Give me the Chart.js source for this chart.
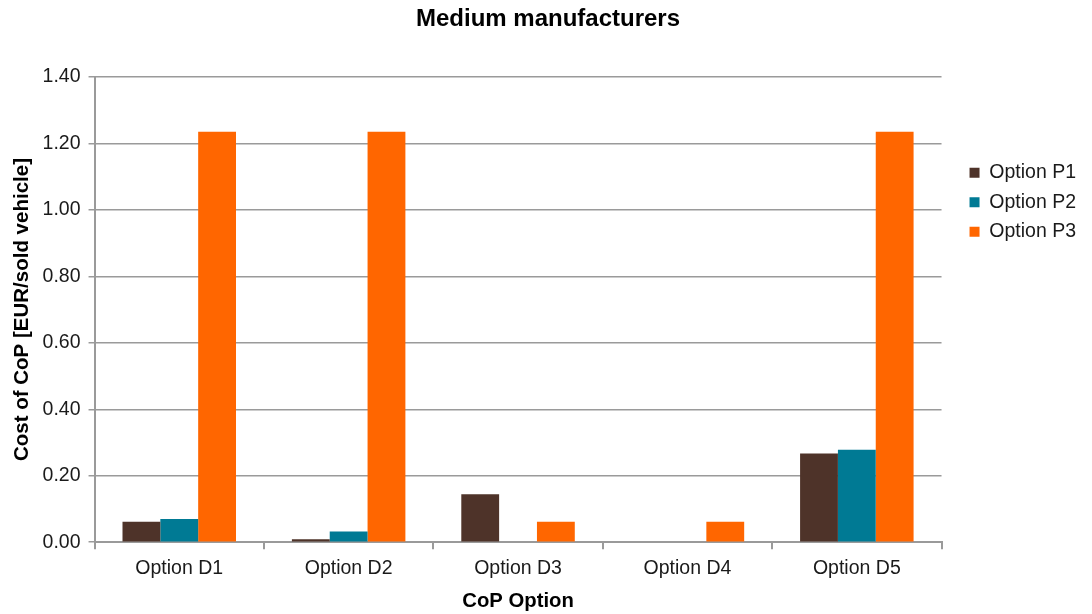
<!DOCTYPE html>
<html>
<head>
<meta charset="utf-8">
<title>Medium manufacturers</title>
<script src="https://cdn.jsdelivr.net/npm/chart.js@4.4.1/dist/chart.umd.min.js"></script>
<style>
    html, body { margin: 0; padding: 0; background: #ffffff; }
    #wrap { width: 1092px; height: 614px; }
</style>
</head>
<body>
<div id="wrap"><canvas id="costChart" width="1092" height="614"></canvas></div>
<script>
// CoP options on the x axis
const copOptions = ['Option D1', 'Option D2', 'Option D3', 'Option D4', 'Option D5'];

// Cost per sold vehicle (EUR) for each P option
const optionP1 = [0.062, 0.009, 0.144, 0, 0.267];
const optionP2 = [0.070, 0.032, 0, 0, 0.278];
const optionP3 = [1.235, 1.235, 0.062, 0.062, 1.235];

const seriesNames = ['Option P1', 'Option P2', 'Option P3'];
const seriesColors = ['#4e3329', '#007a94', '#ff6600'];

const FONT = "'Liberation Sans', Arial, sans-serif";
const gridGrey = '#9a9a9a';

Chart.defaults.font.family = FONT;
Chart.defaults.color = '#1a1a1a';

const costCtx = document.getElementById('costChart').getContext('2d');
const costChart = new Chart(costCtx, {
    type: 'bar',
    data: {
        labels: copOptions,
        datasets: [optionP1, optionP2, optionP3].map((values, i) => ({
            label: seriesNames[i],
            data: values,
            backgroundColor: seriesColors[i],
            borderWidth: 0,
            categoryPercentage: 0.67,
            barPercentage: 1.0
        }))
    },
    options: {
        responsive: false,
        animation: false,
        devicePixelRatio: 1,
        layout: { padding: { left: 10, right: 6, top: 4, bottom: 0 } },
        plugins: {
            title: {
                display: true,
                text: 'Medium manufacturers',
                color: '#000000',
                font: { size: 24, weight: 'bold' },
                padding: { top: 1, bottom: 43 }
            },
            legend: {
                position: 'right',
                align: 'start',
                title: { display: true, text: ' ', font: { size: 10 }, padding: { top: 137, bottom: 0 } },
                labels: {
                    boxWidth: 10,
                    boxHeight: 10,
                    padding: 10,
                    color: '#1a1a1a',
                    font: { size: 19.5 }
                }
            },
            tooltip: { enabled: false }
        },
        scales: {
            x: {
                grid: {
                    display: true,
                    drawOnChartArea: false,
                    drawTicks: true,
                    tickLength: 7,
                    offset: true,
                    color: gridGrey,
                    lineWidth: 2
                },
                border: { display: true, color: gridGrey, width: 2 },
                ticks: { font: { size: 19.5 }, color: '#1a1a1a', padding: 8 },
                title: {
                    display: true,
                    text: 'CoP Option',
                    color: '#000000',
                    font: { size: 20.3, weight: 'bold' },
                    padding: { top: 1, bottom: 0 }
                }
            },
            y: {
                min: 0,
                max: 1.4,
                grid: {
                    color: gridGrey,
                    lineWidth: 1.5,
                    drawTicks: true,
                    tickLength: 6
                },
                border: { display: true, color: gridGrey, width: 2 },
                ticks: {
                    stepSize: 0.2,
                    font: { size: 19.5 },
                    color: '#1a1a1a',
                    padding: 8,
                    callback: v => v.toFixed(2)
                },
                title: {
                    display: true,
                    text: 'Cost of CoP [EUR/sold vehicle]',
                    color: '#000000',
                    font: { size: 20.5, weight: 'bold' },
                    padding: { top: 0, bottom: 0 }
                }
            },
            // empty strip between the plot and the legend
            gap: {
                type: 'linear',
                position: 'right',
                display: true,
                grid: { display: false, drawOnChartArea: false },
                border: { display: false },
                ticks: { display: false },
                afterFit: scale => { scale.width = 18; }
            }
        }
    }
});
</script>
</body>
</html>
